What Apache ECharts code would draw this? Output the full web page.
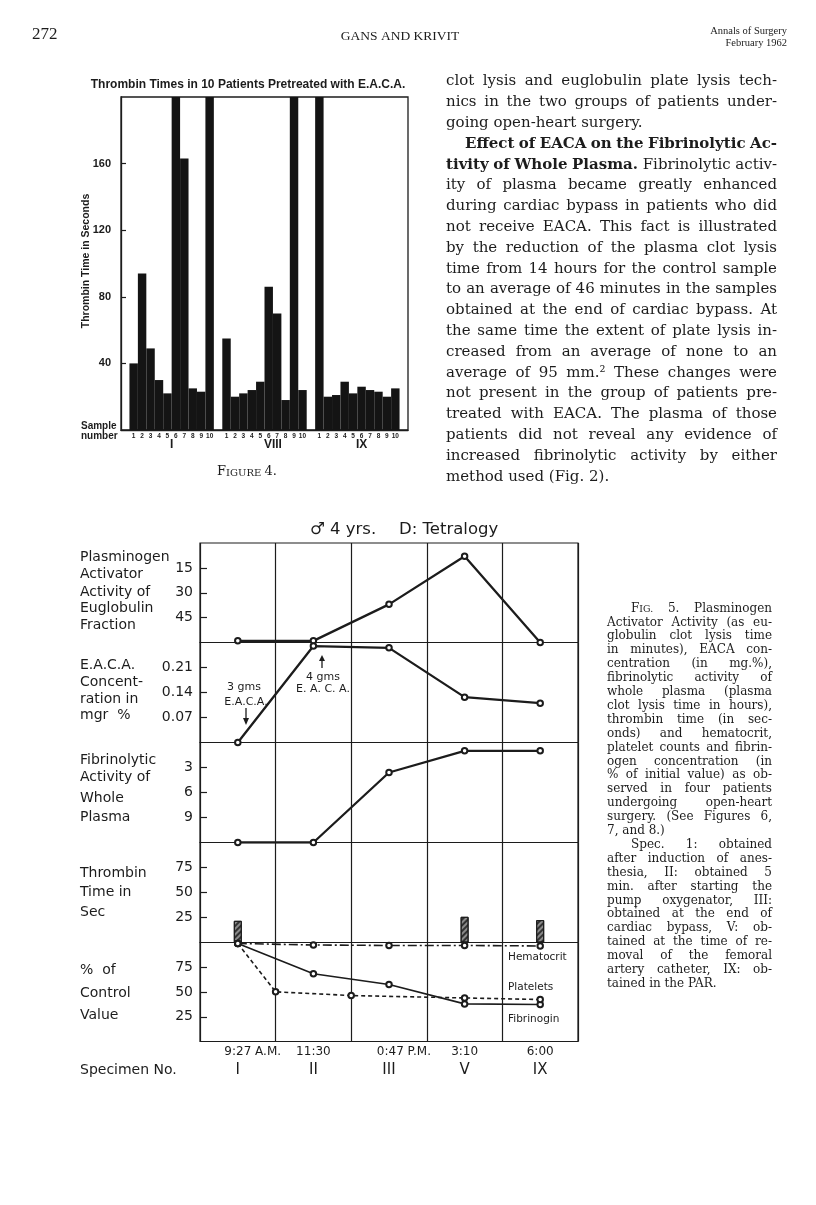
<!DOCTYPE html>
<html lang="en">
<head>
<meta charset="UTF-8">
<title>Annals of Surgery, p. 272</title>
<script src="https://cdn.jsdelivr.net/npm/echarts@6/dist/echarts.min.js"></script>
<style>
  html, body { margin: 0; padding: 0; background: #fff; }
  #main { width: 816px; height: 1205px; }
</style>
</head>
<body>
<div id="main"></div>
<script>
// ---- Figure 4 data ----
var sampleNumbers = ['1', '2', '3', '4', '5', '6', '7', '8', '9', '10'];
var groupNames = ['I', 'VIII', 'IX'];
var thrombinI = [40, 94, 49, 30, 22, 200, 163, 25, 23, 200];
var thrombinVIII = [55, 20, 22, 24, 29, 86, 70, 18, 200, 24];
var thrombinIX = [200, 20, 21, 29, 22, 26, 24, 23, 20, 25];
var fig4Ticks = [40, 80, 120, 160];

// ---- Figure 5 data ----
var specimens = ['I', 'II', 'III', 'V', 'IX'];
var clockTimes = ['9:27 A.M.', '11:30', '0:47 P.M.', '3:10', '6:00'];
var plasminogen = [59, 59, 37, 8, 60];          // euglobulin lysis, minutes
var eaca = [0, 0.27, 0.265, 0.127, 0.11];        // mgr %
var wholePlasma = [12, 12, 3.6, 1, 1];           // plasma clot lysis, hours
var thrombinSec = [21.7, null, null, 25.7, 22.4];
var hematocrit = [99, 97.5, 97, 97, 96.5];
var fibrinogin = [99, 68.5, 57.6, 38, 37.3];
var plateletAt = [0.5, 1, 2, 3.5, 4.5];          // sampled between specimens
var platelets = [99, 50.2, 46.4, 44, 42.4];
var panelTicks = [[15, 30, 45], [0.07, 0.14, 0.21], [3, 6, 9], [25, 50, 75], [25, 50, 75]];
var panelTitles = [
  ['Plasminogen', 'Activator', 'Activity of', 'Euglobulin', 'Fraction'],
  ['E.A.C.A.', 'Concent-', 'ration in', 'mgr  %'],
  ['Fibrinolytic', 'Activity of', 'Whole', 'Plasma'],
  ['Thrombin', 'Time in', 'Sec'],
  ['%  of', 'Control', 'Value']
];
var lineNames = ['Hematocrit', 'Platelets', 'Fibrinogin'];

// ---- page text ----
var bodyLines = [
  'clot lysis and euglobulin plate lysis tech-',
  'nics in the two groups of patients under-',
  'going open-heart surgery.',
  '*Effect of EACA on the Fibrinolytic Ac-*',
  '*tivity of Whole Plasma.* Fibrinolytic activ-',
  'ity of plasma became greatly enhanced',
  'during cardiac bypass in patients who did',
  'not receive EACA. This fact is illustrated',
  'by the reduction of the plasma clot lysis',
  'time from 14 hours for the control sample',
  'to an average of 46 minutes in the samples',
  'obtained at the end of cardiac bypass. At',
  'the same time the extent of plate lysis in-',
  'creased from an average of none to an',
  'average of 95 mm.\u00b2 These changes were',
  'not present in the group of patients pre-',
  'treated with EACA. The plasma of those',
  'patients did not reveal any evidence of',
  'increased fibrinolytic activity by either',
  'method used (Fig. 2).'
];
var captionLines = [
  '^FIG. 5. Plasminogen',
  'Activator Activity (as eu-',
  'globulin clot lysis time',
  'in minutes), EACA con-',
  'centration (in mg.%),',
  'fibrinolytic activity of',
  'whole plasma (plasma',
  'clot lysis time in hours),',
  'thrombin time (in sec-',
  'onds) and hematocrit,',
  'platelet counts and fibrin-',
  'ogen concentration (in',
  '% of initial value) as ob-',
  'served in four patients',
  'undergoing open-heart',
  'surgery. (See Figures 6,',
  '7, and 8.)',
  'Spec. 1: obtained',
  'after induction of anes-',
  'thesia, II: obtained 5',
  'min. after starting the',
  'pump oxygenator, III:',
  'obtained at the end of',
  'cardiac bypass, V: ob-',
  'tained at the time of re-',
  'moval of the femoral',
  'artery catheter, IX: ob-',
  'tained in the PAR.'
];

var INK = '#1c1c1c';
var SANS = 'DejaVu Sans';
var SERIF = 'DejaVu Serif';
var measure = document.createElement('canvas').getContext('2d');
function textWidth(str, size, weight, family) {
  measure.font = (weight || 'normal') + ' ' + size + 'px "' + (family || SERIF) + '"';
  return measure.measureText(str).width;
}
function capsWidth(str, size) {
  return textWidth(str.charAt(0), size) + textWidth(str.slice(1), size * 0.78);
}

// justified column: one text element per word
function paragraph(lines, o) {
  var out = [];
  lines.forEach(function (line, i) {
    var y = o.y0 + i * o.step;
    var x0 = o.x0 + (o.indent.indexOf(i) >= 0 ? o.indentBy : 0);
    var words = [], bold = false;
    line.split(' ').forEach(function (w) {
      var it = { t: w, bold: bold, caps: false };
      if (w.charAt(0) === '*') { it.t = w.slice(1); it.bold = bold = true; }
      if (it.t.slice(-1) === '*') { it.t = it.t.slice(0, -1); bold = false; }
      if (it.t.charAt(0) === '^') { it.t = it.t.slice(1); it.caps = true; }
      words.push(it);
    });
    var size = o.size;
    function widths(s) {
      return words.map(function (w) {
        return w.caps ? capsWidth(w.t, s) : textWidth(w.t, s, w.bold ? 'bold' : 'normal');
      });
    }
    var ws = widths(size);
    var total = ws.reduce(function (a, b) { return a + b; }, 0);
    var avail = o.x1 - x0;
    var minGap = textWidth(' ', size) * 0.7;
    if (total + minGap * (words.length - 1) > avail) {
      size = size * avail / (total + minGap * (words.length - 1));
      ws = widths(size);
      total = ws.reduce(function (a, b) { return a + b; }, 0);
    }
    var ragged = o.ragged.indexOf(i) >= 0 || words.length < 2;
    var gap = ragged ? textWidth(' ', size) : (avail - total) / (words.length - 1);
    var x = x0;
    words.forEach(function (w, k) {
      var el = {
        type: 'text', x: x, y: y, silent: true,
        style: {
          text: w.t, fill: INK, fontFamily: SERIF, fontSize: size,
          fontWeight: w.bold ? 'bold' : 'normal', verticalAlign: 'middle'
        }
      };
      if (w.caps) {
        el.style.text = '{a|' + w.t.charAt(0) + '}{b|' + w.t.slice(1) + '}';
        el.style.rich = {
          a: { fontSize: size, fontFamily: SERIF, fill: INK, verticalAlign: 'bottom' },
          b: { fontSize: size * 0.78, fontFamily: SERIF, fill: INK, verticalAlign: 'bottom' }
        };
      }
      out.push(el);
      x += ws[k] + gap;
    });
  });
  return out;
}

function txt(x, y, str, size, extra) {
  var st = { text: str, fill: INK, fontFamily: SANS, fontSize: size, verticalAlign: 'middle', align: 'left' };
  for (var k in (extra || {})) st[k] = extra[k];
  return { type: 'text', x: x, y: y, silent: true, style: st };
}

var chart = echarts.init(document.getElementById('main'));

// figure 4 categories: empty slot before, between and after the groups
var sampleCats = [''].concat(sampleNumbers, [' '], sampleNumbers, ['  '], sampleNumbers, ['   ']);
var fig4Data = [null].concat(thrombinI, [null], thrombinVIII, [null], thrombinIX, [null]);
var groupSlots = [6, 18, 28.5];

// figure 5 panels
var f5Left = 200, f5Width = 378;
var edges = [543, 642.5, 742.5, 842.5, 942.5, 1041.5];
var panelRange = [[0, 60, true], [0, 0.28, false], [0, 12, true], [0, 100, false], [0, 100, false]];

var grids = [{ left: 121, top: 97, width: 287, height: 333, show: true, borderColor: INK, borderWidth: 1.3 }];
var xAxes = [
  {
    gridIndex: 0, type: 'category', data: sampleCats, position: 'bottom',
    axisLine: { show: true, lineStyle: { color: INK, width: 1.3 } }, axisTick: { show: false },
    axisLabel: { interval: 0, fontSize: 6.5, fontWeight: 'bold', fontFamily: 'Liberation Sans', color: INK, margin: 3 }
  },
  {
    gridIndex: 0, type: 'value', min: 0, max: sampleCats.length, position: 'bottom',
    axisLine: { show: false }, axisTick: { show: false }, splitLine: { show: false },
    axisLabel: {
      customValues: groupSlots, margin: 9, fontSize: 12, fontWeight: 'bold',
      fontFamily: 'Liberation Sans', color: INK,
      formatter: function (v) { return groupNames[groupSlots.indexOf(v)]; }
    }
  }
];
var yAxes = [{
  gridIndex: 0, type: 'value', min: 0, max: 200,
  axisLine: { show: true, lineStyle: { color: INK, width: 1.3 } },
  axisTick: { show: true, inside: true, length: 5, customValues: fig4Ticks, lineStyle: { color: INK, width: 1.2 } },
  axisLabel: { customValues: fig4Ticks, margin: 10, fontSize: 11, fontWeight: 'bold', fontFamily: 'Liberation Sans', color: INK },
  splitLine: { show: false }
}];

for (var p = 0; p < 5; p++) {
  grids.push({ left: f5Left, top: edges[p], width: f5Width, height: edges[p + 1] - edges[p], show: true, borderColor: INK, borderWidth: 1.2 });
  var xa = {
    gridIndex: p + 1, type: 'category', data: specimens, boundaryGap: true,
    axisLine: { show: false }, axisTick: { show: false }, axisLabel: { show: false },
    splitLine: { show: true, interval: 0, lineStyle: { color: INK, width: 1.2 } }
  };
  if (p === 4) {
    xa.axisLabel = {
      show: true, interval: 0, margin: 2, color: INK,
      formatter: function (v, i) {
        var top = clockTimes[i].indexOf(' ') > 0 ? '{sp|}{t|' + clockTimes[i] + '}' : '{t|' + clockTimes[i] + '}';
        return top + '\n{n|' + v + '}';
      },
      rich: {
        sp: { width: textWidth(' A.M.', 12, 'normal', SANS), lineHeight: 17 },
        t: { fontSize: 12, fontFamily: SANS, color: INK, lineHeight: 17 },
        n: { fontSize: 15, fontFamily: SANS, color: INK, lineHeight: 19 }
      }
    };
  }
  xAxes.push(xa);
  (function (ticks, idx) {
    yAxes.push({
      gridIndex: idx + 1, type: 'value', min: panelRange[idx][0], max: panelRange[idx][1], inverse: panelRange[idx][2],
      axisLine: { show: false },
      axisTick: { show: true, inside: true, length: 7, customValues: ticks, lineStyle: { color: INK, width: 1.2 } },
      axisLabel: {
        customValues: ticks, margin: 7, fontSize: 14, fontFamily: SANS, color: INK,
        formatter: function (v) { return idx === 1 ? v.toFixed(2) : String(v); }
      },
      splitLine: { show: false }
    });
  })(panelTicks[p], p);
}
// hidden continuous scale for the platelet samples taken between specimens
xAxes.push({ gridIndex: 5, type: 'value', min: 0, max: 5, show: false });

function lineSeries(name, xi, yi, data, width, type) {
  return {
    type: 'line', name: name, xAxisIndex: xi, yAxisIndex: yi, data: data,
    symbol: 'emptyCircle', symbolSize: 5.5, itemStyle: { color: INK, borderWidth: 1.2 },
    lineStyle: { color: INK, width: width, type: type || 'solid' }, z: 5
  };
}

var series = [
  {
    type: 'bar', name: 'Thrombin time', xAxisIndex: 0, yAxisIndex: 0, data: fig4Data,
    barWidth: '100%', barCategoryGap: 0, itemStyle: { color: '#141414' }
  },
  lineSeries('Plasminogen activator', 2, 1, plasminogen, 2.3),
  lineSeries('E.A.C.A.', 3, 2, eaca, 2.3),
  lineSeries('Whole plasma', 4, 3, wholePlasma, 2.3),
  {
    type: 'bar', name: 'Thrombin', xAxisIndex: 5, yAxisIndex: 4, data: thrombinSec, barWidth: 8,
    itemStyle: {
      color: '#8a8a8a', borderColor: INK, borderWidth: 1,
      decal: { symbol: 'rect', symbolSize: 1, color: 'rgba(20,20,20,0.75)', dashArrayX: [1, 0], dashArrayY: [1.5, 1.5], rotation: -Math.PI / 4 }
    }
  },
  lineSeries(lineNames[0], 6, 5, hematocrit, 1.6, [9, 3, 2, 3]),
  lineSeries(lineNames[2], 6, 5, fibrinogin, 1.6),
  lineSeries(lineNames[1], 7, 5, plateletAt.map(function (t, i) { return [t, platelets[i]]; }), 1.6, [4, 3])
];

// ---- graphic text ----
var g = [];
g.push(txt(32, 35, '272', 17, { fontFamily: 'Liberation Serif' }));
g.push(txt(400, 36, 'GANS AND KRIVIT', 13.5, { fontFamily: 'Liberation Serif', align: 'center' }));
g.push(txt(787, 31, 'Annals of Surgery', 10.5, { fontFamily: 'Liberation Serif', align: 'right' }));
g.push(txt(787, 43, 'February 1962', 10.5, { fontFamily: 'Liberation Serif', align: 'right' }));

g.push(txt(248, 85, 'Thrombin Times in 10 Patients Pretreated with E.A.C.A.', 12, { fontFamily: 'Liberation Sans', fontWeight: 'bold', align: 'center' }));
var yName = txt(86, 261, 'Thrombin Time in Seconds', 10.5, { fontFamily: 'Liberation Sans', fontWeight: 'bold', align: 'center' });
yName.rotation = Math.PI / 2;
g.push(yName);
g.push(txt(81, 426, 'Sample', 10, { fontFamily: 'Liberation Sans', fontWeight: 'bold' }));
g.push(txt(81, 436, 'number', 10, { fontFamily: 'Liberation Sans', fontWeight: 'bold' }));
g.push({
  type: 'text', x: 247, y: 472, silent: true,
  style: {
    text: '{a|F}{b|IGURE} {a|4.}', align: 'center', verticalAlign: 'middle',
    rich: {
      a: { fontSize: 13, fontFamily: SERIF, fill: INK, verticalAlign: 'bottom' },
      b: { fontSize: 10, fontFamily: SERIF, fill: INK, verticalAlign: 'bottom' }
    }
  }
});

g.push(txt(310, 530, '\u2642 4 yrs.', 16.5));
g.push(txt(399, 530, 'D: Tetralogy', 16.5));
var titleRows = [[557, 574, 592, 608, 625], [665, 682, 699, 715], [760, 777, 798, 817], [873, 892, 912], [970, 993, 1015]];
panelTitles.forEach(function (rows, p) {
  rows.forEach(function (r, k) { g.push(txt(80, titleRows[p][k], r, 14)); });
});
g.push(txt(80, 1070, 'Specimen No.', 14));

g.push(txt(244, 687, '3 gms', 11, { align: 'center' }));
g.push(txt(246, 702, 'E.A.C.A.', 11, { align: 'center' }));
g.push({ type: 'line', silent: true, shape: { x1: 246, y1: 708, x2: 246, y2: 720 }, style: { stroke: INK, lineWidth: 1.3 } });
g.push({ type: 'polygon', silent: true, shape: { points: [[243, 718], [249, 718], [246, 725]] }, style: { fill: INK } });
g.push(txt(323, 677, '4 gms', 11, { align: 'center' }));
g.push(txt(323, 689, 'E. A. C. A.', 11, { align: 'center' }));
g.push({ type: 'line', silent: true, shape: { x1: 322, y1: 668, x2: 322, y2: 660 }, style: { stroke: INK, lineWidth: 1.3 } });
g.push({ type: 'polygon', silent: true, shape: { points: [[319, 661], [325, 661], [322, 655]] }, style: { fill: INK } });

[957, 987, 1019].forEach(function (y, k) { g.push(txt(508, y, lineNames[k], 10.5)); });

g = g.concat(paragraph(bodyLines, { x0: 446, x1: 777, y0: 81.5, step: 20.8, size: 15, indent: [3], indentBy: 19, ragged: [2, 19] }));
g = g.concat(paragraph(captionLines, { x0: 607, x1: 772, y0: 608.5, step: 13.9, size: 12, indent: [0, 17], indentBy: 24, ragged: [16, 27] }));

chart.setOption({
  animation: false,
  backgroundColor: '#ffffff',
  grid: grids,
  xAxis: xAxes,
  yAxis: yAxes,
  series: series,
  graphic: g
});
</script>
</body>
</html>
